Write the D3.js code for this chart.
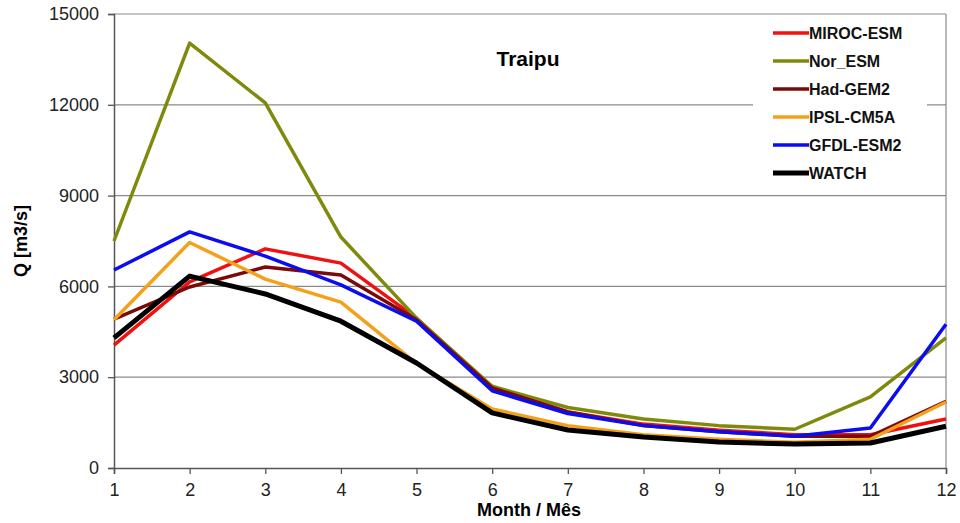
<!DOCTYPE html>
<meta charset="utf-8">
<head>
  <title>Traipu</title>
  <script src="https://d3js.org/d3.v7.min.js"></script>
  <style>
    body { margin: 0; background: #fff; }
    text { font-family: "Liberation Sans", Arial, sans-serif; }
  </style>
</head>
<body>
<div id="display"></div>
<script>

// data (Q in m3/s per month)
var months = [1, 2, 3, 4, 5, 6, 7, 8, 9, 10, 11, 12];
var yTicks = [0, 3000, 6000, 9000, 12000, 15000];
var seriesNames = ["MIROC-ESM", "Nor_ESM", "Had-GEM2", "IPSL-CM5A", "GFDL-ESM2", "WATCH"];
var seriesColors = ["#f01010", "#7f8a0c", "#7a0a0a", "#f5a01a", "#0c0cf0", "#000000"];

var miroc = [4060, 6150, 7240, 6770, 4950, 2650, 1850, 1450, 1250, 1100, 1100, 1620];
var norEsm = [7500, 14040, 12060, 7630, 4950, 2700, 2000, 1620, 1400, 1280, 2350, 4300];
var hadGem = [4920, 5980, 6640, 6380, 4900, 2650, 1850, 1400, 1200, 1050, 1050, 2200];
var ipsl = [4900, 7450, 6240, 5480, 3450, 1950, 1400, 1100, 950, 850, 950, 2180];
var gfdl = [6540, 7800, 7000, 6050, 4850, 2550, 1800, 1400, 1200, 1050, 1320, 4750];
var watch = [4300, 6340, 5750, 4850, 3470, 1820, 1255, 1025, 860, 790, 825, 1380];

var allSeries = [miroc, norEsm, hadGem, ipsl, gfdl, watch];

var margin = {top: 14, right: 14, bottom: 55, left: 114},
    width = 960 - margin.left - margin.right,
    height = 523 - margin.top - margin.bottom;

var svg = d3.select("#display")
  .append("svg")
    .attr("width", 960)
    .attr("height", 523)
  .append("g")
    .attr("transform", "translate(" + margin.left + "," + margin.top + ")");

var x = d3.scaleLinear()
  .domain([1, 12])
  .range([0, width]);

var y = d3.scaleLinear()
  .domain([0, 15000])
  .range([height, 0]);

// grid lines
svg.append("g")
  .selectAll("line")
  .data(yTicks.filter(function(d) { return d > 0; }))
  .enter()
  .append("line")
    .attr("x1", 0)
    .attr("x2", width)
    .attr("y1", function(d) { return y(d); })
    .attr("y2", function(d) { return y(d); })
    .attr("stroke", "#8a8a8a")
    .attr("stroke-width", 1.2);

// right border
svg.append("line")
  .attr("x1", width).attr("x2", width)
  .attr("y1", 0).attr("y2", height)
  .attr("stroke", "#8a8a8a")
  .attr("stroke-width", 1.2);

// legend box (white, hides grid)
var legend = svg.append("g")
  .attr("transform", "translate(" + (753 - margin.left) + "," + (15 - margin.top) + ")");

legend.append("rect")
  .attr("width", 174)
  .attr("height", 176)
  .attr("fill", "#fff");

// axes
var yAxis = svg.append("g")
  .call(d3.axisLeft(y).tickValues(yTicks).tickSize(6).tickPadding(9).tickFormat(d3.format("d")));

var xAxis = svg.append("g")
  .attr("transform", "translate(0," + height + ")")
  .call(d3.axisBottom(x).tickValues(months).tickSize(6).tickPadding(9).tickFormat(d3.format("d")));

[yAxis, xAxis].forEach(function(a) {
  a.select(".domain").attr("stroke", "#555").attr("stroke-width", 1.5);
  a.selectAll(".tick line").attr("stroke", "#555").attr("stroke-width", 1.3);
  a.selectAll(".tick text")
    .attr("fill", "#222")
    .style("font-size", "18px")
    .style("font-family", "'Liberation Sans', Arial, sans-serif");
});

// series lines
var line = d3.line()
  .x(function(d, i) { return x(months[i]); })
  .y(function(d) { return y(d); });

svg.selectAll(".series")
  .data(allSeries)
  .enter()
  .append("path")
    .attr("class", "series")
    .attr("d", line)
    .attr("fill", "none")
    .attr("stroke", function(d, i) { return seriesColors[i]; })
    .attr("stroke-width", function(d, i) { return i == 5 ? 5 : 3.5; })
    .attr("stroke-linejoin", "round");

// legend items
var items = legend.selectAll(".item")
  .data(seriesNames)
  .enter()
  .append("g")
    .attr("class", "item")
    .attr("transform", function(d, i) { return "translate(0," + (18 + i * 28) + ")"; });

items.append("line")
  .attr("x1", 20).attr("x2", 56)
  .attr("stroke", function(d, i) { return seriesColors[i]; })
  .attr("stroke-width", function(d, i) { return i == 5 ? 5 : 3.5; });

items.append("text")
  .attr("x", 56)
  .attr("dy", "0.36em")
  .style("font-size", "16px")
  .style("font-weight", "bold")
  .attr("fill", "#111")
  .text(function(d) { return d; });

// title
svg.append("text")
  .attr("x", 528 - margin.left)
  .attr("y", 66 - margin.top)
  .attr("text-anchor", "middle")
  .style("font-size", "21px")
  .style("font-weight", "bold")
  .text("Traipu");

// axis titles
svg.append("text")
  .attr("x", 529 - margin.left)
  .attr("y", 516 - margin.top)
  .attr("text-anchor", "middle")
  .style("font-size", "18px")
  .style("font-weight", "bold")
  .text("Month / Mês");

svg.append("text")
  .attr("transform", "translate(" + (27 - margin.left) + "," + (241 - margin.top) + ") rotate(-90)")
  .attr("text-anchor", "middle")
  .style("font-size", "18px")
  .style("font-weight", "bold")
  .text("Q [m3/s]");

</script>
</body>
